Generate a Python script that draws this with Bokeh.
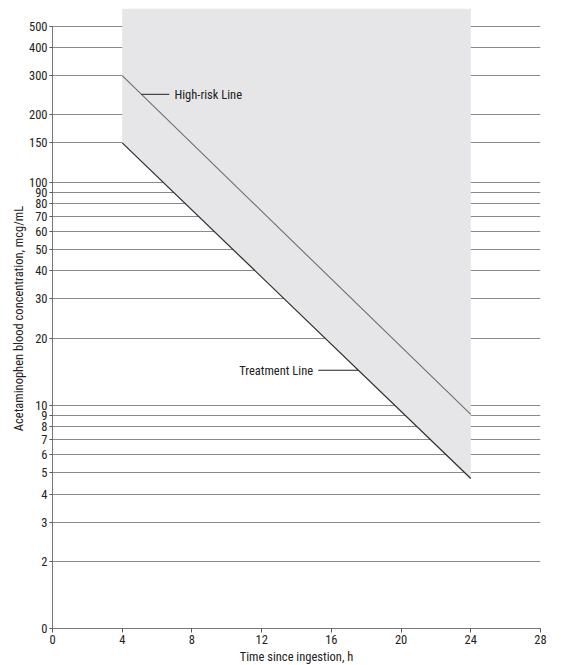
import numpy as np
from bokeh.plotting import figure
from bokeh.models import FixedTicker, Label, Range1d
from bokeh.embed import file_html
from bokeh.resources import INLINE

# ---- data ----
hours = [4, 24]
treatment_line = [150, 4.7]
high_risk_line = [300, 9.1]
y_ticks = [1, 2, 3, 4, 5, 6, 7, 8, 9, 10, 20, 30, 40, 50, 60, 70, 80, 90, 100, 150, 200, 300, 400, 500]
y_tick_labels = {1: "0"}
x_ticks = [0, 4, 8, 12, 16, 20, 24, 28]
y_min, y_max = 1, 600
x_min, x_max = 0, 28

FONT = "'Liberation Sans Narrow', 'Arial Narrow', 'Roboto Condensed', sans-serif"
GRID = "#8a8a8a"

p = figure(frame_width=488, frame_height=620, y_axis_type="log",
           x_range=Range1d(x_min, x_max), y_range=Range1d(y_min, y_max),
           output_backend="svg", toolbar_location=None,
           min_border_left=52, min_border_top=8, min_border_right=20, min_border_bottom=0)
p.outline_line_color = None
p.background_fill_color = "white"

# grid
p.xgrid.visible = False
p.ygrid.ticker = FixedTicker(ticks=y_ticks)
p.ygrid.grid_line_color = GRID
p.ygrid.grid_line_width = 1

# shaded region: from treatment line up to top of chart
p.varea(x=hours, y1=treatment_line, y2=[y_max, y_max], fill_color="#e6e6e8")

# lines
p.line(hours, high_risk_line, line_color="#6e6e6e", line_width=1.1)
p.line(hours, treatment_line, line_color="#2a2a2a", line_width=1.2)

def interp_log(x, xs, ys):
    t = (x - xs[0]) / (xs[1] - xs[0])
    return 10 ** (np.log10(ys[0]) + t * (np.log10(ys[1]) - np.log10(ys[0])))

# leader lines + labels
hr_x0, hr_x1 = 5.1, 6.7
hr_y = interp_log(hr_x0, hours, high_risk_line)
p.segment(x0=[hr_x0], y0=[hr_y], x1=[hr_x1], y1=[hr_y], line_color="#222222", line_width=1)
p.add_layout(Label(x=hr_x1 + 0.3, y=hr_y, text="High-risk Line", text_font=FONT,
                   text_font_size="12.5px", text_baseline="middle", text_align="left",
                   text_color="#222222"))

tr_x1 = 17.55
tr_x0 = 15.25
tr_y = interp_log(tr_x1, hours, treatment_line)
p.segment(x0=[tr_x0], y0=[tr_y], x1=[tr_x1], y1=[tr_y], line_color="#222222", line_width=1)
p.add_layout(Label(x=tr_x0 - 0.3, y=tr_y, text="Treatment Line", text_font=FONT,
                   text_font_size="12.5px", text_baseline="middle", text_align="right",
                   text_color="#222222"))

# axes
for ax in (p.xaxis[0], p.yaxis[0]):
    ax.axis_line_color = "#777777"
    ax.major_tick_line_color = "#555555"
    ax.minor_tick_line_color = None
    ax.major_tick_in = 0
    ax.major_label_text_font = FONT
    ax.major_label_text_font_size = "12.5px"
    ax.major_label_text_color = "#222222"
    ax.axis_label_text_font = FONT
    ax.axis_label_text_font_size = "12.5px"
    ax.axis_label_text_font_style = "normal"
    ax.axis_label_text_color = "#222222"

p.xaxis.ticker = FixedTicker(ticks=x_ticks)
p.xaxis.major_tick_out = 4
p.xaxis.major_label_standoff = 2
p.xaxis.axis_label = "Time since ingestion, h"
p.xaxis.axis_label_standoff = 2

p.yaxis.ticker = FixedTicker(ticks=y_ticks)
p.yaxis.major_label_overrides = y_tick_labels
p.yaxis.major_tick_out = 3
p.yaxis.major_label_standoff = 2
p.yaxis.bounds = (y_min, 500)
p.yaxis.axis_label = "Acetaminophen blood concentration, mcg/mL"
p.yaxis.axis_label_standoff = 0

open("out.html", "w").write(file_html(p, INLINE))
